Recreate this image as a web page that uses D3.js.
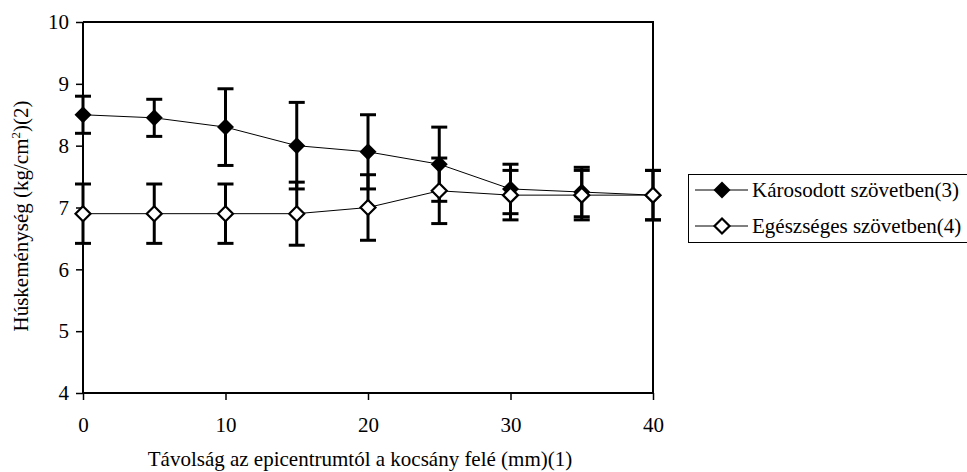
<!DOCTYPE html>
<html>
<head>
<meta charset="utf-8">
<script src="https://cdn.jsdelivr.net/npm/d3@7"></script>
<style>
  html, body { margin: 0; padding: 0; background: #fff; }
  svg { display: block; }
  text { font-family: "Liberation Serif", "Times New Roman", serif; fill: #000; }
</style>
</head>
<body>
<svg id="chart" width="967" height="472"></svg>
<script>
// ---- data ----
const distances = [0, 5, 10, 15, 20, 25, 30, 35, 40];
const damagedValues = [8.5, 8.45, 8.3, 8.0, 7.9, 7.7, 7.3, 7.25, 7.2];
const damagedErrors = [0.3, 0.3, 0.62, 0.7, 0.6, 0.6, 0.4, 0.4, 0.4];
const healthyValues = [6.9, 6.9, 6.9, 6.9, 7.0, 7.27, 7.2, 7.2, 7.2];
const healthyErrors = [0.48, 0.48, 0.48, 0.51, 0.53, 0.53, 0.4, 0.4, 0.4];
const xTicks = [0, 10, 20, 30, 40];
const yTicks = [4, 5, 6, 7, 8, 9, 10];
const seriesNames = ["Károsodott szövetben(3)", "Egészséges szövetben(4)"];
const xLabel = "Távolság az epicentrumtól a kocsány felé (mm)(1)";
const yLabelMain = "Húskeménység (kg/cm";
const yLabelSup = "2";
const yLabelEnd = ")(2)";

// ---- layout ----
const svg = d3.select("#chart");
const plot = { left: 83, right: 653, top: 22, bottom: 393 };
const x = d3.scaleLinear().domain([0, 40]).range([plot.left, plot.right]);
const y = d3.scaleLinear().domain([4, 10]).range([plot.bottom, plot.top]);
const fontSize = 21;

const series = [
  { name: seriesNames[0], values: damagedValues, errors: damagedErrors, fill: "#000" },
  { name: seriesNames[1], values: healthyValues, errors: healthyErrors, fill: "#fff" }
];

// plot frame (top and right)
svg.append("path")
  .attr("d", `M${plot.left},${plot.top}H${plot.right}V${plot.bottom}`)
  .attr("fill", "none").attr("stroke", "#000").attr("stroke-width", 2);

// axes
const yAxis = svg.append("g")
  .attr("transform", `translate(${plot.left},0)`)
  .call(d3.axisLeft(y).tickValues(yTicks).tickSize(7).tickPadding(7).tickFormat(d3.format("d")));
const xAxis = svg.append("g")
  .attr("transform", `translate(0,${plot.bottom})`)
  .call(d3.axisBottom(x).tickValues(xTicks).tickSize(7).tickPadding(17).tickFormat(d3.format("d")));
[xAxis, yAxis].forEach(g => {
  g.select(".domain").attr("stroke", "#000").attr("stroke-width", 2);
  g.selectAll(".tick line").attr("stroke", "#000").attr("stroke-width", 1.5);
  g.selectAll(".tick text").attr("font-size", fontSize)
    .attr("font-family", "'Liberation Serif', 'Times New Roman', serif").attr("fill", "#000");
});
// redraw domain lines so the corners are clean
yAxis.select(".domain").attr("d", `M0,${plot.top}V${plot.bottom}`);
xAxis.select(".domain").attr("d", `M${plot.left},0H${plot.right}`);

// error bars (both series first)
const capHalf = 8;
series.forEach(s => {
  const g = svg.append("g").attr("stroke", "#000").attr("stroke-width", 3).attr("fill", "none");
  distances.forEach((d, i) => {
    const cx = x(d), hi = y(s.values[i] + s.errors[i]), lo = y(s.values[i] - s.errors[i]);
    g.append("line").attr("x1", cx).attr("x2", cx).attr("y1", hi).attr("y2", lo);
    g.append("line").attr("x1", cx - capHalf).attr("x2", cx + capHalf).attr("y1", hi).attr("y2", hi);
    g.append("line").attr("x1", cx - capHalf).attr("x2", cx + capHalf).attr("y1", lo).attr("y2", lo);
  });
});

// lines
const line = d3.line().x((d, i) => x(distances[i])).y(d => y(d));
series.forEach(s => {
  svg.append("path").datum(s.values)
    .attr("d", line).attr("fill", "none").attr("stroke", "#000").attr("stroke-width", 1);
});

// markers
const diamondPath = (cx, cy, r) => `M${cx},${cy - r}L${cx + r},${cy}L${cx},${cy + r}L${cx - r},${cy}Z`;
function marker(g, cx, cy, s) {
  if (s.fill === "#000") {
    g.append("path").attr("d", diamondPath(cx, cy, 8.5)).attr("fill", "#000").attr("stroke", "none");
  } else {
    g.append("path").attr("d", diamondPath(cx, cy, 7.5)).attr("fill", "#fff")
      .attr("stroke", "#000").attr("stroke-width", 2.2);
  }
}
series.forEach(s => {
  const g = svg.append("g");
  s.values.forEach((v, i) => marker(g, x(distances[i]), y(v), s));
});

// axis titles
svg.append("text")
  .attr("x", 360).attr("y", 466)
  .attr("text-anchor", "middle").attr("font-size", fontSize)
  .text(xLabel);

const yt = svg.append("text")
  .attr("transform", "translate(28,216) rotate(-90)")
  .attr("text-anchor", "middle").attr("font-size", fontSize);
yt.append("tspan").text(yLabelMain);
yt.append("tspan").attr("font-size", 13).attr("dy", -8).text(yLabelSup);
yt.append("tspan").attr("dy", 8).text(yLabelEnd);

// legend
const legend = svg.append("g");
legend.append("rect")
  .attr("x", 688.5).attr("y", 174.5).attr("width", 290).attr("height", 68)
  .attr("fill", "#fff").attr("stroke", "#000").attr("stroke-width", 1);
const rowY = [190, 226];
series.forEach((s, i) => {
  legend.append("line").attr("x1", 695).attr("x2", 748).attr("y1", rowY[i]).attr("y2", rowY[i])
    .attr("stroke", "#000").attr("stroke-width", 1);
  marker(legend, 722, rowY[i], s);
  legend.append("text").attr("x", 752).attr("y", rowY[i]).attr("dy", "0.35em")
    .attr("font-size", fontSize).text(s.name);
});
</script>
</body>
</html>
